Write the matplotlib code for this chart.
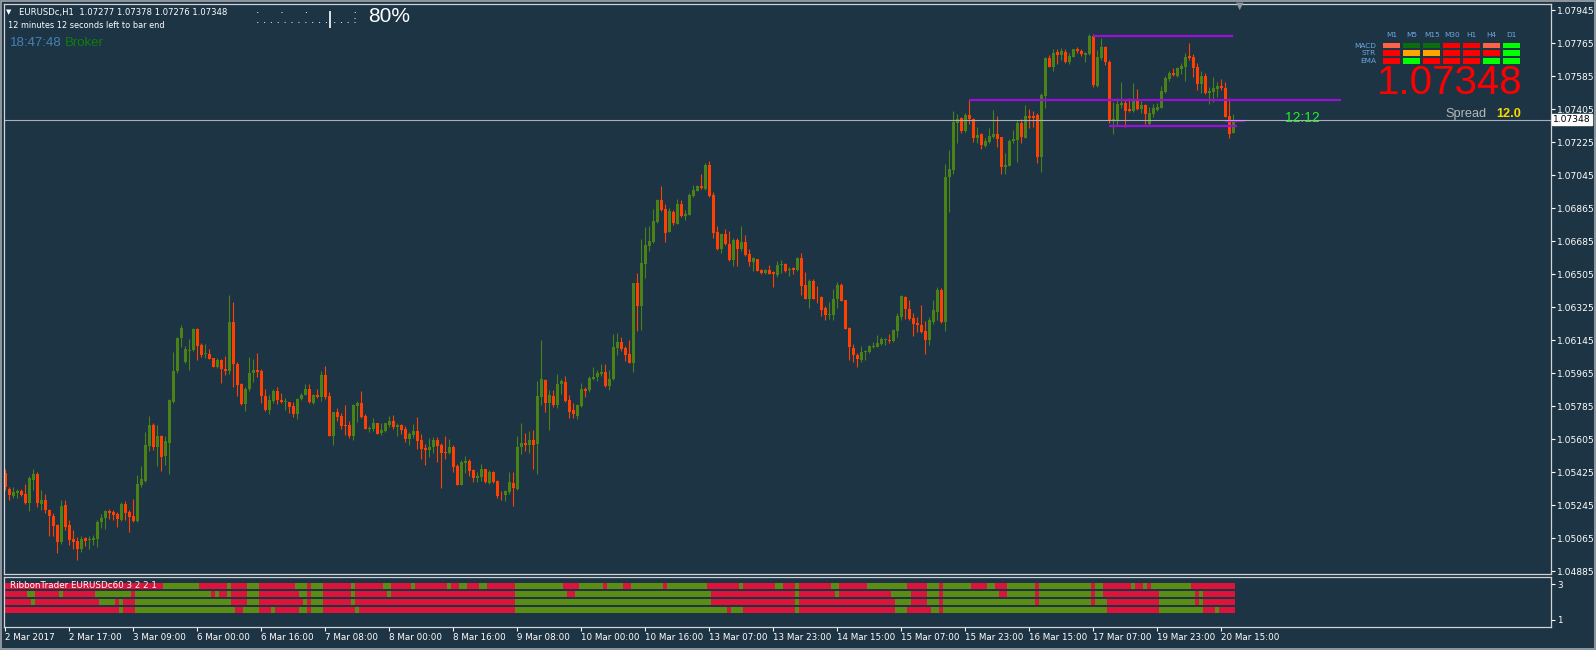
import numpy as np
import matplotlib.pyplot as plt

W, H = 1596, 650
BG = '#1c3444'
BULL = '#4b8216'
BEAR = '#ff4000'
RIB_RED = '#dc143c'
RIB_GRN = '#5b8c14'
TXT = 'DejaVu Sans'

# hourly EURUSD bars, 2 Mar 01:00 .. 20 Mar 18:00
opens = [
    1.05422, 1.05336, 1.05296, 1.05312, 1.05322, 1.05305, 1.05258, 1.05382, 1.05418, 1.05254,
    1.05272, 1.05218, 1.05189, 1.05136, 1.05045, 1.05245, 1.05136, 1.05060, 1.05049, 1.05005,
    1.05065, 1.05054, 1.05058, 1.05060, 1.05151, 1.05176, 1.05214, 1.05207, 1.05196, 1.05167,
    1.05254, 1.05207, 1.05185, 1.05160, 1.05354, 1.05378, 1.05569, 1.05682, 1.05560, 1.05622,
    1.05515, 1.05586, 1.05809, 1.05977, 1.06155, 1.06028, 1.06088, 1.06091, 1.06206, 1.06119,
    1.06068, 1.06070, 1.06046, 1.06000, 1.06037, 1.05988, 1.05979, 1.06246, 1.06015, 1.05906,
    1.05797, 1.05877, 1.05968, 1.05982, 1.05977, 1.05842, 1.05764, 1.05815, 1.05868, 1.05818,
    1.05806, 1.05808, 1.05786, 1.05740, 1.05822, 1.05849, 1.05878, 1.05804, 1.05846, 1.05836,
    1.05954, 1.05840, 1.05623, 1.05751, 1.05731, 1.05682, 1.05682, 1.05623, 1.05787, 1.05800,
    1.05731, 1.05663, 1.05660, 1.05691, 1.05638, 1.05651, 1.05682, 1.05702, 1.05673, 1.05682,
    1.05660, 1.05605, 1.05627, 1.05649, 1.05600, 1.05556, 1.05545, 1.05563, 1.05600, 1.05572,
    1.05536, 1.05530, 1.05563, 1.05458, 1.05356, 1.05476, 1.05485, 1.05436, 1.05392, 1.05399,
    1.05441, 1.05369, 1.05427, 1.05377, 1.05303, 1.05299, 1.05318, 1.05367, 1.05336, 1.05560,
    1.05585, 1.05571, 1.05603, 1.05578, 1.05836, 1.05927, 1.05803, 1.05843, 1.05791, 1.05904,
    1.05916, 1.05818, 1.05763, 1.05733, 1.05787, 1.05878, 1.05873, 1.05933, 1.05945, 1.05961,
    1.05971, 1.05894, 1.05934, 1.06104, 1.06135, 1.06101, 1.06070, 1.06022, 1.06455, 1.06333,
    1.06563, 1.06659, 1.06683, 1.06792, 1.06910, 1.06861, 1.06738, 1.06847, 1.06781, 1.06889,
    1.06823, 1.06828, 1.06934, 1.06961, 1.06987, 1.06970, 1.07102, 1.06938, 1.06736, 1.06643,
    1.06725, 1.06670, 1.06583, 1.06692, 1.06641, 1.06681, 1.06616, 1.06574, 1.06588, 1.06528,
    1.06510, 1.06528, 1.06517, 1.06503, 1.06554, 1.06561, 1.06526, 1.06537, 1.06528, 1.06594,
    1.06446, 1.06370, 1.06468, 1.06383, 1.06379, 1.06321, 1.06284, 1.06284, 1.06368, 1.06446,
    1.06363, 1.06210, 1.06105, 1.06064, 1.06037, 1.06080, 1.06079, 1.06108, 1.06110, 1.06126,
    1.06146, 1.06148, 1.06141, 1.06197, 1.06272, 1.06383, 1.06317, 1.06268, 1.06241, 1.06228,
    1.06195, 1.06145, 1.06246, 1.06300, 1.06418, 1.06246, 1.07034, 1.07074, 1.07332, 1.07356,
    1.07288, 1.07374, 1.07352, 1.07246, 1.07270, 1.07206, 1.07228, 1.07256, 1.07270, 1.07252,
    1.07088, 1.07097, 1.07232, 1.07237, 1.07332, 1.07250, 1.07368, 1.07368, 1.07374, 1.07146,
    1.07479, 1.07687, 1.07638, 1.07718, 1.07702, 1.07718, 1.07663, 1.07692, 1.07736, 1.07725,
    1.07703, 1.07707, 1.07805, 1.07534, 1.07683, 1.07743, 1.07663, 1.07343, 1.07347, 1.07428,
    1.07441, 1.07405, 1.07396, 1.07456, 1.07408, 1.07428, 1.07325, 1.07379, 1.07401, 1.07414,
    1.07499, 1.07569, 1.07605, 1.07589, 1.07625, 1.07638, 1.07696, 1.07689, 1.07634, 1.07543,
    1.07589, 1.07492, 1.07499, 1.07516, 1.07532, 1.07521, 1.07368, 1.07277,
]
highs = [
    1.05440, 1.05345, 1.05342, 1.05336, 1.05333, 1.05360, 1.05403, 1.05443, 1.05427, 1.05327,
    1.05305, 1.05227, 1.05200, 1.05140, 1.05276, 1.05276, 1.05167, 1.05112, 1.05072, 1.05076,
    1.05072, 1.05076, 1.05081, 1.05167, 1.05196, 1.05221, 1.05227, 1.05221, 1.05207, 1.05261,
    1.05269, 1.05221, 1.05280, 1.05409, 1.05458, 1.05642, 1.05731, 1.05695, 1.05682, 1.05626,
    1.05622, 1.05826, 1.06080, 1.06164, 1.06228, 1.06113, 1.06150, 1.06210, 1.06210, 1.06132,
    1.06124, 1.06095, 1.06050, 1.06046, 1.06040, 1.06059, 1.06392, 1.06355, 1.06028, 1.05913,
    1.05888, 1.06051, 1.06042, 1.06077, 1.05986, 1.05877, 1.05846, 1.05877, 1.05888, 1.05855,
    1.05828, 1.05809, 1.05809, 1.05828, 1.05855, 1.05909, 1.05909, 1.05851, 1.05880, 1.05976,
    1.06004, 1.05864, 1.05754, 1.05778, 1.05749, 1.05791, 1.05705, 1.05796, 1.05814, 1.05867,
    1.05742, 1.05676, 1.05723, 1.05696, 1.05691, 1.05696, 1.05731, 1.05738, 1.05694, 1.05687,
    1.05676, 1.05645, 1.05687, 1.05725, 1.05632, 1.05581, 1.05614, 1.05618, 1.05618, 1.05585,
    1.05621, 1.05605, 1.05572, 1.05472, 1.05494, 1.05512, 1.05496, 1.05443, 1.05427, 1.05469,
    1.05445, 1.05436, 1.05432, 1.05385, 1.05323, 1.05330, 1.05425, 1.05427, 1.05625, 1.05691,
    1.05640, 1.05649, 1.05654, 1.05921, 1.06149, 1.05931, 1.05873, 1.05873, 1.05960, 1.05936,
    1.05949, 1.05845, 1.05800, 1.05796, 1.05914, 1.05891, 1.05949, 1.06000, 1.05985, 1.06018,
    1.06014, 1.05985, 1.06178, 1.06182, 1.06160, 1.06113, 1.06146, 1.06459, 1.06510, 1.06697,
    1.06761, 1.06768, 1.06859, 1.06914, 1.06987, 1.06889, 1.06865, 1.06856, 1.06914, 1.06910,
    1.06856, 1.06950, 1.06992, 1.06992, 1.07052, 1.07111, 1.07123, 1.06956, 1.06768, 1.06732,
    1.06750, 1.06743, 1.06701, 1.06701, 1.06768, 1.06719, 1.06641, 1.06601, 1.06590, 1.06532,
    1.06535, 1.06555, 1.06523, 1.06577, 1.06583, 1.06568, 1.06543, 1.06543, 1.06597, 1.06623,
    1.06517, 1.06481, 1.06477, 1.06441, 1.06386, 1.06332, 1.06355, 1.06424, 1.06463, 1.06459,
    1.06366, 1.06215, 1.06124, 1.06073, 1.06115, 1.06091, 1.06117, 1.06137, 1.06173, 1.06164,
    1.06159, 1.06179, 1.06204, 1.06295, 1.06390, 1.06386, 1.06364, 1.06292, 1.06270, 1.06337,
    1.06251, 1.06273, 1.06364, 1.06437, 1.06428, 1.07106, 1.07183, 1.07398, 1.07379, 1.07365,
    1.07387, 1.07456, 1.07359, 1.07307, 1.07277, 1.07246, 1.07301, 1.07401, 1.07368, 1.07256,
    1.07168, 1.07241, 1.07292, 1.07347, 1.07350, 1.07428, 1.07405, 1.07398, 1.07383, 1.07496,
    1.07692, 1.07702, 1.07732, 1.07732, 1.07738, 1.07732, 1.07714, 1.07734, 1.07742, 1.07732,
    1.07718, 1.07813, 1.07816, 1.07729, 1.07793, 1.07751, 1.07671, 1.07447, 1.07469, 1.07556,
    1.07459, 1.07465, 1.07547, 1.07514, 1.07450, 1.07434, 1.07416, 1.07434, 1.07441, 1.07532,
    1.07587, 1.07616, 1.07629, 1.07638, 1.07656, 1.07714, 1.07769, 1.07707, 1.07656, 1.07611,
    1.07605, 1.07525, 1.07583, 1.07556, 1.07569, 1.07556, 1.07465, 1.07378,
]
lows = [
    1.05327, 1.05276, 1.05287, 1.05287, 1.05296, 1.05254, 1.05214, 1.05327, 1.05236, 1.05218,
    1.05203, 1.05078, 1.05076, 1.04985, 1.05036, 1.05112, 1.05027, 1.05005, 1.04945, 1.04990,
    1.05021, 1.05005, 1.05027, 1.05018, 1.05123, 1.05116, 1.05171, 1.05163, 1.05127, 1.05160,
    1.05167, 1.05101, 1.05152, 1.05152, 1.05342, 1.05373, 1.05542, 1.05549, 1.05458, 1.05433,
    1.05464, 1.05418, 1.05800, 1.05964, 1.06106, 1.06022, 1.05982, 1.06088, 1.06037, 1.06051,
    1.06046, 1.06040, 1.05997, 1.05991, 1.05913, 1.05955, 1.05960, 1.05891, 1.05840, 1.05791,
    1.05760, 1.05869, 1.05918, 1.05942, 1.05800, 1.05760, 1.05742, 1.05800, 1.05797, 1.05800,
    1.05767, 1.05746, 1.05724, 1.05718, 1.05818, 1.05844, 1.05800, 1.05797, 1.05828, 1.05814,
    1.05827, 1.05621, 1.05572, 1.05705, 1.05663, 1.05627, 1.05612, 1.05600, 1.05700, 1.05722,
    1.05660, 1.05645, 1.05651, 1.05632, 1.05627, 1.05643, 1.05673, 1.05662, 1.05623, 1.05634,
    1.05591, 1.05572, 1.05614, 1.05552, 1.05498, 1.05463, 1.05509, 1.05530, 1.05480, 1.05339,
    1.05496, 1.05523, 1.05427, 1.05356, 1.05354, 1.05421, 1.05407, 1.05370, 1.05372, 1.05377,
    1.05367, 1.05359, 1.05367, 1.05287, 1.05276, 1.05269, 1.05308, 1.05239, 1.05330, 1.05523,
    1.05541, 1.05530, 1.05441, 1.05414, 1.05791, 1.05754, 1.05654, 1.05782, 1.05778, 1.05851,
    1.05809, 1.05722, 1.05722, 1.05718, 1.05782, 1.05833, 1.05864, 1.05927, 1.05924, 1.05949,
    1.05891, 1.05876, 1.05927, 1.06064, 1.06087, 1.06033, 1.06019, 1.05973, 1.06197, 1.06201,
    1.06483, 1.06634, 1.06678, 1.06787, 1.06852, 1.06683, 1.06734, 1.06774, 1.06778, 1.06819,
    1.06801, 1.06827, 1.06929, 1.06961, 1.06970, 1.06965, 1.06929, 1.06705, 1.06637, 1.06623,
    1.06665, 1.06579, 1.06550, 1.06550, 1.06634, 1.06606, 1.06550, 1.06525, 1.06523, 1.06506,
    1.06506, 1.06506, 1.06437, 1.06492, 1.06514, 1.06519, 1.06495, 1.06506, 1.06525, 1.06392,
    1.06368, 1.06321, 1.06368, 1.06350, 1.06277, 1.06255, 1.06259, 1.06253, 1.06323, 1.06359,
    1.06204, 1.06037, 1.06024, 1.05997, 1.06029, 1.06037, 1.06073, 1.06104, 1.06106, 1.06121,
    1.06117, 1.06131, 1.06135, 1.06161, 1.06253, 1.06262, 1.06255, 1.06170, 1.06192, 1.06186,
    1.06069, 1.06118, 1.06236, 1.06255, 1.06240, 1.06196, 1.06846, 1.07052, 1.07219, 1.07274,
    1.07283, 1.07325, 1.07228, 1.07223, 1.07186, 1.07201, 1.07223, 1.07246, 1.07201, 1.07052,
    1.07052, 1.07095, 1.07219, 1.07119, 1.07219, 1.07246, 1.07301, 1.07310, 1.07114, 1.07065,
    1.07410, 1.07634, 1.07616, 1.07652, 1.07674, 1.07656, 1.07652, 1.07689, 1.07711, 1.07696,
    1.07665, 1.07702, 1.07529, 1.07529, 1.07671, 1.07647, 1.07328, 1.07268, 1.07319, 1.07410,
    1.07307, 1.07392, 1.07392, 1.07401, 1.07383, 1.07325, 1.07321, 1.07361, 1.07398, 1.07410,
    1.07492, 1.07561, 1.07589, 1.07583, 1.07598, 1.07561, 1.07671, 1.07580, 1.07510, 1.07492,
    1.07489, 1.07434, 1.07447, 1.07474, 1.07510, 1.07361, 1.07246, 1.07276,
]
closes = [
    1.05342, 1.05300, 1.05318, 1.05322, 1.05300, 1.05258, 1.05391, 1.05414, 1.05258, 1.05272,
    1.05218, 1.05187, 1.05132, 1.05045, 1.05240, 1.05127, 1.05058, 1.05043, 1.05007, 1.05063,
    1.05051, 1.05063, 1.05069, 1.05152, 1.05178, 1.05214, 1.05203, 1.05192, 1.05171, 1.05254,
    1.05203, 1.05181, 1.05160, 1.05360, 1.05387, 1.05573, 1.05682, 1.05564, 1.05622, 1.05509,
    1.05595, 1.05818, 1.05977, 1.06159, 1.06212, 1.06095, 1.06091, 1.06206, 1.06113, 1.06064,
    1.06073, 1.06044, 1.06000, 1.06037, 1.05986, 1.05979, 1.06246, 1.06013, 1.05900, 1.05795,
    1.05878, 1.05969, 1.05982, 1.05973, 1.05842, 1.05767, 1.05818, 1.05868, 1.05818, 1.05806,
    1.05813, 1.05782, 1.05740, 1.05822, 1.05849, 1.05878, 1.05809, 1.05846, 1.05837, 1.05954,
    1.05836, 1.05623, 1.05751, 1.05727, 1.05678, 1.05678, 1.05623, 1.05791, 1.05800, 1.05727,
    1.05663, 1.05669, 1.05696, 1.05636, 1.05654, 1.05691, 1.05703, 1.05673, 1.05682, 1.05654,
    1.05605, 1.05632, 1.05649, 1.05594, 1.05551, 1.05545, 1.05563, 1.05600, 1.05567, 1.05530,
    1.05530, 1.05563, 1.05454, 1.05356, 1.05481, 1.05487, 1.05432, 1.05392, 1.05403, 1.05441,
    1.05370, 1.05427, 1.05372, 1.05294, 1.05299, 1.05323, 1.05372, 1.05339, 1.05563, 1.05585,
    1.05571, 1.05603, 1.05576, 1.05842, 1.05933, 1.05803, 1.05845, 1.05791, 1.05905, 1.05922,
    1.05814, 1.05754, 1.05742, 1.05791, 1.05878, 1.05867, 1.05940, 1.05945, 1.05965, 1.05971,
    1.05894, 1.05936, 1.06107, 1.06135, 1.06098, 1.06064, 1.06022, 1.06455, 1.06333, 1.06565,
    1.06665, 1.06687, 1.06796, 1.06910, 1.06856, 1.06728, 1.06850, 1.06787, 1.06889, 1.06823,
    1.06834, 1.06938, 1.06965, 1.06987, 1.06974, 1.07102, 1.06932, 1.06732, 1.06643, 1.06725,
    1.06668, 1.06583, 1.06692, 1.06643, 1.06683, 1.06610, 1.06574, 1.06592, 1.06525, 1.06510,
    1.06528, 1.06508, 1.06505, 1.06555, 1.06561, 1.06523, 1.06535, 1.06528, 1.06594, 1.06443,
    1.06370, 1.06468, 1.06370, 1.06379, 1.06312, 1.06284, 1.06288, 1.06370, 1.06446, 1.06361,
    1.06206, 1.06106, 1.06062, 1.06040, 1.06080, 1.06086, 1.06113, 1.06115, 1.06131, 1.06150,
    1.06150, 1.06141, 1.06201, 1.06279, 1.06384, 1.06313, 1.06262, 1.06235, 1.06226, 1.06190,
    1.06145, 1.06255, 1.06309, 1.06418, 1.06246, 1.07037, 1.07077, 1.07334, 1.07350, 1.07288,
    1.07374, 1.07350, 1.07246, 1.07265, 1.07208, 1.07232, 1.07259, 1.07270, 1.07243, 1.07088,
    1.07103, 1.07234, 1.07243, 1.07332, 1.07252, 1.07368, 1.07359, 1.07359, 1.07146, 1.07483,
    1.07687, 1.07638, 1.07714, 1.07702, 1.07720, 1.07660, 1.07696, 1.07732, 1.07722, 1.07707,
    1.07714, 1.07805, 1.07538, 1.07692, 1.07743, 1.07660, 1.07343, 1.07350, 1.07434, 1.07441,
    1.07396, 1.07396, 1.07452, 1.07408, 1.07428, 1.07378, 1.07383, 1.07410, 1.07419, 1.07505,
    1.07574, 1.07601, 1.07592, 1.07629, 1.07643, 1.07689, 1.07685, 1.07632, 1.07543, 1.07589,
    1.07492, 1.07505, 1.07519, 1.07532, 1.07521, 1.07365, 1.07270, 1.07348,
]

price_ticks = [1.07945, 1.07765, 1.07585, 1.07405, 1.07225, 1.07045, 1.06865, 1.06685, 1.06505,
               1.06325, 1.06145, 1.05965, 1.05785, 1.05605, 1.05425, 1.05245, 1.05065, 1.04885]
time_labels = ['2 Mar 2017', '2 Mar 17:00', '3 Mar 09:00', '6 Mar 00:00', '6 Mar 16:00',
               '7 Mar 08:00', '8 Mar 00:00', '8 Mar 16:00', '9 Mar 08:00', '10 Mar 00:00',
               '10 Mar 16:00', '13 Mar 07:00', '13 Mar 23:00', '14 Mar 15:00', '15 Mar 07:00',
               '15 Mar 23:00', '16 Mar 15:00', '17 Mar 07:00', '19 Mar 23:00', '20 Mar 15:00']
time_label_bars = [0, 16, 32, 48, 64, 80, 96, 112, 128, 144, 160, 176, 192, 208, 224,
                   240, 256, 272, 288, 304]
bid = 1.07348

# purple levels: (price, first bar, last bar)
levels = [(1.07805, 272, 307), (1.07456, 241, 334), (1.07316, 276, 308), (1.07343, 305, 310)]

# RibbonTrader rows: every row starts red, colour flips at these bars
ribbon_flips = [
    [40, 49, 56, 57, 61, 64, 73, 76, 77, 80, 87, 88, 95, 97, 102, 103, 111, 112, 114, 116, 119, 121,
     128, 140, 144, 150, 151, 155, 157, 165, 166, 176, 184, 185, 193, 195, 198, 199, 207, 209, 216,
     226, 231, 234, 235, 242, 246, 248, 251, 258, 259, 272, 273, 275, 282, 283, 285, 286, 287, 297],
    [6, 8, 14, 15, 23, 32, 33, 52, 53, 54, 56, 57, 61, 64, 74, 76, 77, 80, 87, 88, 96, 97, 128, 141,
     143, 177, 198, 199, 208, 209, 222, 227, 231, 234, 235, 249, 251, 258, 259, 272, 273, 275, 289,
     298, 299, 300],
    [7, 8, 24, 28, 29, 30, 33, 57, 61, 64, 75, 76, 77, 80, 87, 88, 128, 177, 198, 199, 223, 227, 231,
     234, 235, 258, 259, 272, 273, 276, 289, 298, 299, 300],
    [29, 30, 33, 58, 60, 64, 67, 68, 74, 76, 77, 80, 88, 89, 128, 181, 182, 185, 198, 199, 223, 226,
     232, 234, 235, 276, 289, 300, 303, 304],
]
ribbon_levels = [2.9, 2.45, 2.0, 1.55]

# multi timeframe panel
timeframes = ['M1', 'M5', 'M15', 'M30', 'H1', 'H4', 'D1']
panel_rows = ['MACD', 'STR', 'EMA']
panel_states = [
    ['#ff6347', '#0a6e0a', '#0a6e0a', '#ff0000', '#ff0000', '#ff6347', '#00ff00'],
    ['#ff0000', '#ffa500', '#ffa500', '#ff0000', '#ff0000', '#ff0000', '#00ff00'],
    ['#ff0000', '#00ff00', '#ff0000', '#ff0000', '#ff0000', '#00ff00', '#00ff00'],
]


def frac(x0, y0, x1, y1):
    return [x0 / W, 1 - y1 / H, (x1 - x0) / W, (y1 - y0) / H]


def main():
    o = np.array(opens); h = np.array(highs); l = np.array(lows); c = np.array(closes)
    n = len(c)
    x = np.arange(n)
    cols = np.where(c >= o, BULL, BEAR)

    fig = plt.figure(figsize=(W / 100, H / 100), dpi=100, facecolor=BG)
    ax = fig.add_axes(frac(4, 4, 1551, 574), facecolor=BG)
    sub = fig.add_axes(frac(4, 577, 1551, 627), facecolor=BG)
    ov = fig.add_axes([0, 0, 1, 1], facecolor='none')
    ov.set_xlim(0, W); ov.set_ylim(H, 0); ov.axis('off')

    xmin, xmax = (4 - 5.3) / 4, (1551 - 5.3) / 4

    # candles
    ax.vlines(x, l, h, colors=cols, lw=0.8)
    ax.bar(x, np.maximum(np.abs(c - o), 0.00004), bottom=np.minimum(o, c), width=0.72,
           color=cols, linewidth=0)
    for p, b0, b1 in levels:
        ax.hlines(p, b0, b1, colors='#9a10d8', lw=1.6)
    ax.axhline(bid, color='#a9b0b8', lw=0.8)
    ax.set_xlim(xmin, xmax)
    ax.set_ylim(1.04870, 1.07979)
    ax.set_xticks([])
    ax.yaxis.tick_right()
    ax.set_yticks(price_ticks)
    ax.set_yticklabels(['%.5f' % t for t in price_ticks])
    ax.tick_params(axis='y', colors='white', labelsize=6.6, length=3, width=0.8, pad=1.5)
    for lab in ax.get_yticklabels():
        lab.set_family(TXT)
    for s in ax.spines.values():
        s.set_color('#d0d4d8'); s.set_linewidth(0.9)
    ax.text(1.0015, bid, '%.5f' % bid, transform=ax.get_yaxis_transform(), va='center', ha='left',
            fontsize=6.6, family=TXT, color='black',
            bbox=dict(boxstyle='square,pad=0.12', fc='white', ec='white'))

    # ribbon sub window
    for flips, lev in zip(ribbon_flips, ribbon_levels):
        bounds = [0] + flips + [n]
        reds, greens = [], []
        for k in range(len(bounds) - 1):
            seg = (bounds[k] - 0.5, bounds[k + 1] - bounds[k])
            (reds if k % 2 == 0 else greens).append(seg)
        sub.broken_barh(reds, (lev - 0.17, 0.34), facecolor=RIB_RED, linewidth=0)
        sub.broken_barh(greens, (lev - 0.17, 0.34), facecolor=RIB_GRN, linewidth=0)
    sub.set_xlim(xmin, xmax)
    sub.set_ylim(0.611, 3.389)
    sub.yaxis.tick_right()
    sub.set_yticks([1, 3])
    sub.set_xticks(time_label_bars)
    sub.set_xticklabels(time_labels, ha='left')
    sub.tick_params(colors='white', labelsize=6.3, length=3, width=0.8, pad=1.5)
    for lab in sub.get_xticklabels() + sub.get_yticklabels():
        lab.set_family(TXT)
    for s in sub.spines.values():
        s.set_color('#d0d4d8'); s.set_linewidth(0.9)

    # window frame
    ov.add_patch(plt.Rectangle((0.8, 0.8), W - 1.6, H - 2.2, fill=False, ec='#a4a9ae', lw=1.2))

    # header texts
    ov.text(6, 12, '\u25bc', fontsize=5, color='white', va='center', family=TXT)
    ov.text(19, 12, 'EURUSDc,H1  1.07277 1.07378 1.07276 1.07348', fontsize=6.1, color='white',
            va='center', family=TXT)
    ov.text(8, 25, '12 minutes 12 seconds left to bar end', fontsize=5.9, color='white',
            va='center', family=TXT)
    ov.text(10, 43, '18:47:48', fontsize=9.5, color='#4682b4', va='center', family='Liberation Sans')
    ov.text(65, 43, 'Broker', fontsize=9.5, color='#0e7e0e', va='center', family='Liberation Sans')
    ov.text(256, 15, '.      .      .             .', fontsize=7.8, color='white', va='bottom', family=TXT)
    ov.text(256, 25, '. . . . . . . . . . .', fontsize=7.8, color='white', va='bottom', family=TXT)
    ov.vlines(330, 11, 28, colors='white', lw=1.2)
    ov.text(333, 25, '. . . :', fontsize=7.6, color='white', va='bottom', family=TXT)
    ov.text(368, 17, '80%', fontsize=15, color='white', va='center', family='Liberation Sans')
    ov.text(1240, 6, '\u25bc', fontsize=7, color='#8c949c', va='center', ha='center', family=TXT)
    ov.text(1285, 118, '12:12', fontsize=10, color='#2ee82e', va='center', family='Liberation Sans')
    ov.text(10, 586, 'RibbonTrader EURUSDc60 3 2 2 1', fontsize=6.3, color='white', va='center',
            family=TXT)

    # timeframe panel
    for j, tf in enumerate(timeframes):
        cx = 1391.7 + 20 * j
        ov.text(cx, 35, tf, fontsize=5.3, color='#6fa8dc', ha='center', va='center', family=TXT)
        for i in range(len(panel_rows)):
            ov.add_patch(plt.Rectangle((cx - 8.3, 42.7 + 7.7 * i), 16.7, 5.6,
                                       facecolor=panel_states[i][j], edgecolor='none'))
    for i, name in enumerate(panel_rows):
        ov.text(1376, 45.5 + 7.7 * i, name, fontsize=5.3, color='#6fa8dc', ha='right',
                va='center', family=TXT)
    ov.text(1523, 94, '%.5f' % bid, fontsize=29, color='#ff0000', ha='right', va='baseline',
            family='Liberation Sans')
    ov.text(1445, 114, 'Spread', fontsize=9.2, color='#b8b8b8', va='center', family='Liberation Sans')
    ov.text(1496, 114, '12.0', fontsize=9.2, color='#ffd700', va='center', weight='bold',
            family='Liberation Sans')

    fig.savefig('out.png', dpi=100, facecolor=BG)


if __name__ == "__main__":
    main()
